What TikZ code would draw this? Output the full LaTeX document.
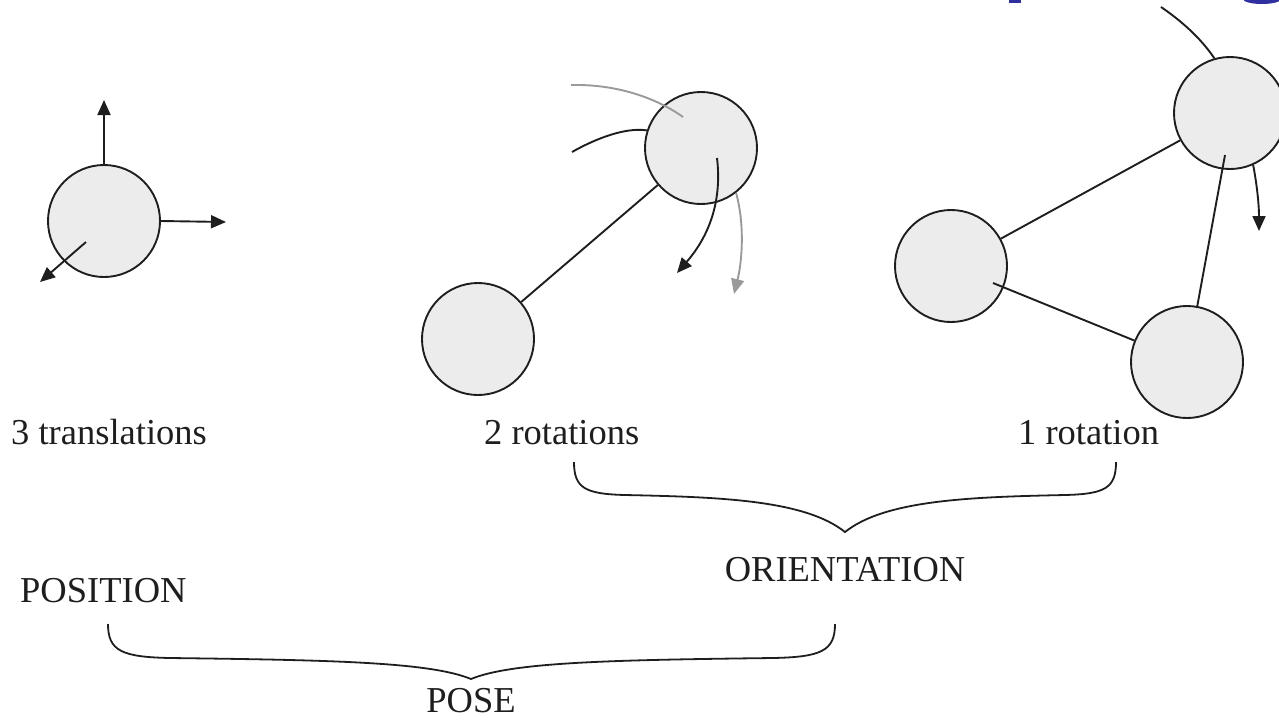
\documentclass[tikz,border=0pt]{standalone}
\usepackage{fontspec}
\setmainfont{Liberation Serif}
\usetikzlibrary{arrows.meta,calc}
\definecolor{ballfill}{HTML}{EBECEB}
\definecolor{ink}{HTML}{1E1E1E}
\definecolor{greyink}{HTML}{9A9A9A}
\definecolor{titleblue}{HTML}{2F2F9F}
\tikzset{
  ball/.style={circle,draw=ink,line width=1.9pt,fill=ballfill,minimum size=112pt,inner sep=0pt},
  link/.style={draw=ink,line width=1.9pt},
  arr/.style={draw=ink,line width=1.9pt,-{Triangle[length=15pt,width=13pt]}},
  garr/.style={draw=greyink,line width=1.9pt,-{Triangle[length=15pt,width=13pt]}},
  lbl/.style={font=\fontsize{36.5}{42}\selectfont,inner sep=0pt,anchor=base west,text=ink},
  brace/.style={draw=ink,line width=1.8pt}
}
\begin{document}
\begin{tikzpicture}[x=1pt,y=-1pt]
\useasboundingbox (0,0) rectangle (1279,721);
% title fragments (clipped)
\begin{scope}
\clip (0,0) rectangle (1279,721);
\fill[titleblue] (1009,-5) rectangle (1021,3);
\fill[titleblue] (1262,-1) ellipse[x radius=19pt,y radius=5pt];
\end{scope}
% circles
\node[ball] (A) at (104,221) {};
\node[ball] (B) at (701,148) {};
\node[ball] (C) at (478,339) {};
\node[ball] (D) at (1230,113) {};
\node[ball] (E) at (951,266) {};
\node[ball] (F) at (1187,362) {};
% translations
\coordinate (aUp) at (104,100);
\coordinate (aRt) at (226,222);
\coordinate (aIn) at (86,242);
\coordinate (aSW) at (40,282);
\draw[arr] (A.north) -- (aUp);
\draw[arr] (A.east) -- (aRt);
\draw[arr] (aIn) -- (aSW);
% two rotations
\draw[link] (C) -- (B);
\coordinate (gS) at (571,85);
\coordinate (gE) at (683,117);
\draw[draw=greyink,line width=1.9pt] (gS) .. controls (615,84) and (655,97) .. (gE);
\coordinate (kS) at (572,152);
\draw[link] (kS) .. controls (595,139) and (625,127) .. (B.162);
\coordinate (bIn) at (717,158);
\coordinate (bTip) at (677,273);
\draw[arr] (bIn) .. controls (722,200) and (710,235) .. (bTip);
\coordinate (gTip) at (734,294);
\draw[garr] (B.-52) .. controls (745,225) and (742,262) .. (gTip);
% one rotation
\draw[link] (E) -- (D);
\coordinate (eIn) at (993,283);
\draw[link] (eIn) -- (F);
\coordinate (dIn) at (1225,155);
\draw[link] (dIn) -- (F);
\coordinate (dTip) at (1259,231);
\draw[arr] (D.-66) .. controls (1257,185) and (1259,205) .. (dTip);
\coordinate (topS) at (1161,7);
\draw[link] (topS) .. controls (1180,20) and (1200,37) .. (D.106);
% labels
\node[lbl] (t3) at (11,444) {3 translations};
\node[lbl] (r2) at (484,444) {2 rotations};
\node[lbl] (r1) at (1018,444) {1 rotation};
% brace 1
\coordinate (b1L) at (574,462);
\coordinate (b1R) at (1116,462);
\coordinate (b1T) at (845,532);
\draw[brace] (b1L) .. controls (574,488) and (585,494) .. (625,495)
  .. controls (720,497) and (805,500) .. (b1T)
  .. controls (885,500) and (970,497) .. (1065,495)
  .. controls (1105,494) and (1116,488) .. (b1R);
\node[lbl,anchor=base] (ori) at (b1T |- 0,581) {ORIENTATION};
\node[lbl] (pos) at (20,602) {POSITION};
% brace 2
\coordinate (b2L) at (108,624);
\coordinate (b2R) at (835,624);
\coordinate (b2T) at (471,679);
\draw[brace] (b2L) .. controls (108,651) and (122,657) .. (170,658)
  .. controls (330,660) and (430,662) .. (b2T)
  .. controls (512,662) and (612,660) .. (773,658)
  .. controls (821,657) and (835,651) .. (b2R);
\node[lbl,anchor=base,text depth=0pt] (pose) at (b2T |- 0,712) {POSE};
\end{tikzpicture}
\end{document}
